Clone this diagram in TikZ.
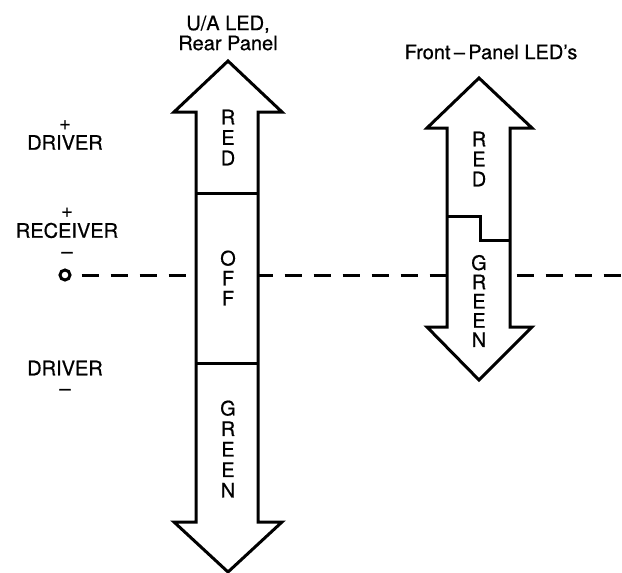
\documentclass[tikz,border=0pt]{standalone}
\usepackage{fontspec}
\setmainfont{TeX Gyre Heros}[FakeBold=0.6]
\begin{document}
\begin{tikzpicture}[x=1pt, y=-1pt, line join=miter,
		every node/.style={font=\fontsize{20}{20}\selectfont, inner sep=0pt},
		stack/.style={align=center, font=\fontsize{20}{#1}\selectfont},
		ledarrow/.style={draw=black, fill=white, line width=3pt},
		divide/.style={black, line width=3pt},
		zeroline/.style={black, line width=3pt, dash pattern=on 17pt off 12pt}]
	\useasboundingbox (0,0) rectangle (622,573);

	% ------------------ 左侧标注 ------------------
	\node[stack=20] (drvtop) at (65,135) {+\\DRIVER};
	\node[stack=20.5] (rcv) at (67,233) {+\\RECEIVER\\\textendash};
	\node[circle, draw, line width=3pt, minimum size=10pt] (rcvzero) at (65,275) {};
	\node[stack=20] (drvbot) at (65,378) {DRIVER\\\textendash};

	% ------------------ 零电平虚线 ------------------
	\coordinate (lineend) at (622,275);
	\draw[zeroline] ([xshift=10pt]rcvzero.east) -- (lineend);

	% ------------------ 后面板 U/A LED ------------------
	\node[stack=20] (uatitle) at (228,33) {U/A LED,\\Rear Panel};
	\draw[ledarrow] (196,112) -- (174,112) -- (228,61) -- (282,112) -- (258,112)
		-- (258,522) -- (282,522) -- (228,572) -- (174,522) -- (196,522) -- cycle;
	\draw[divide] (196,193) -- (258,193);
	\draw[divide] (196,363) -- (258,363);
	\node[stack=20.5] (uared) at (228,137.5) {R\\E\\D};
	\node[stack=20]   (uaoff) at (228,278) {O\\F\\F};
	\node[stack=20.5] (uagrn) at (228,449) {G\\R\\E\\E\\N};

	% ------------------ 前面板 LED ------------------
	\node (fptitle) at (491,52) {Front\,\textendash\,Panel LED’s};
	\draw[ledarrow] (447,128) -- (427,128) -- (479,78) -- (532,128) -- (510,128)
		-- (510,327) -- (532,327) -- (479,380) -- (427,327) -- (447,327) -- cycle;
	\draw[divide] (447,216) -- (480,216) -- (480,240) -- (510,240);
	\node[stack=20]    (fpred) at (479,159) {R\\E\\D};
	\node[stack=19.25] (fpgrn) at (479,301) {G\\R\\E\\E\\N};
\end{tikzpicture}
\end{document}
